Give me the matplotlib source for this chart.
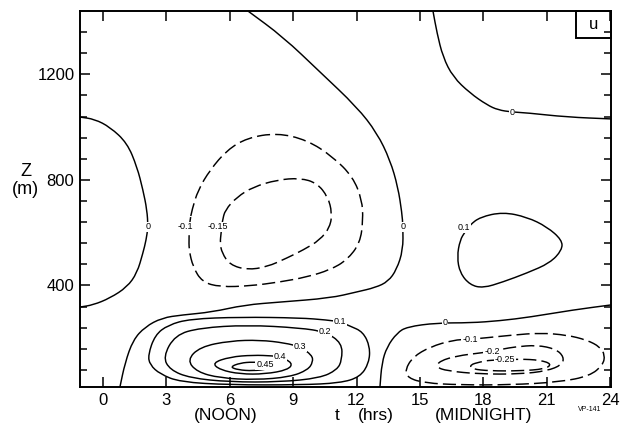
import numpy as np
import matplotlib.pyplot as plt
from matplotlib.patches import Rectangle, PathPatch
from matplotlib.path import Path

plt.rcParams['font.family'] = ['Liberation Sans', 'DejaVu Sans']

# axis ticks
hour_ticks = [0, 3, 6, 9, 12, 15, 18, 21, 24]
height_ticks = [400, 800, 1200]

# contour lines as (t [hrs], z [m])
# u = 0
u0_west = [(-1.09, 1038), (-0.4, 1030), (0.33, 1000), (1.14, 940), (1.61, 849), (1.89, 762),
           (2.08, 686), (2.13, 622), (2.04, 572), (1.89, 523), (1.61, 447), (1.14, 394),
           (0.33, 352), (-0.47, 326), (-1.09, 318)]
u0_diag = [(6.86, 1440), (8.52, 1342), (10.27, 1209), (12.02, 1076), (12.97, 978), (13.59, 875),
           (13.96, 773), (14.15, 675), (14.2, 622), (14.2, 534), (13.9, 460), (13.5, 415),
           (12.9, 392), (12.0, 375), (10.75, 352), (8.4, 337), (6.7, 326), (5.16, 299),
           (3.74, 288), (2.79, 277), (1.99, 243), (1.42, 193), (1.04, 106), (0.8, 15)]
u0_north = [(15.62, 1440), (15.81, 1357), (16.09, 1266), (16.57, 1190), (17.37, 1129),
            (18.18, 1084), (18.7, 1065), (19.36, 1057), (20.07, 1054), (21.96, 1038), (24.05, 1031)]
u0_south = [(13.11, 15), (13.2, 106), (13.44, 167), (13.92, 220), (14.39, 243), (15.81, 258),
            (17.37, 258), (18.79, 266), (20.21, 280), (22.25, 307), (24.05, 326)]

# u = +0.1 aloft at night
p01_aloft = [(17.37, 629), (17.85, 659), (18.93, 678), (20.07, 659), (21.02, 622), (21.73, 572),
             (21.73, 534), (21.16, 485), (20.07, 447), (18.93, 413), (17.99, 390), (17.37, 402),
             (16.9, 447), (16.76, 508), (16.9, 572), (17.14, 603)]

# negative core aloft in the afternoon
n01_aloft = [(4.21, 686), (4.5, 762), (5.07, 838), (5.87, 913), (6.82, 959), (8.24, 978),
             (9.66, 951), (10.89, 887), (11.83, 811), (12.26, 724), (12.31, 648), (12.17, 561),
             (11.55, 496), (10.75, 459), (9.66, 432), (8.38, 413), (6.96, 398), (5.54, 394),
             (4.69, 413), (4.26, 470), (4.07, 534), (4.07, 584), (4.1, 640)]
n015_aloft = [(5.78, 686), (6.34, 735), (7.1, 773), (8.24, 800), (9.33, 807), (10.13, 788),
              (10.65, 735), (10.84, 675), (10.75, 622), (10.27, 572), (9.47, 534), (8.71, 504),
              (7.76, 470), (6.82, 459), (6.01, 478), (5.63, 523), (5.54, 561), (5.59, 599),
              (5.65, 645)]

# daytime low-level jet (positive)
p01_low = [(2.13, 136), (2.46, 212), (3.08, 250), (4.12, 273), (6.49, 280), (9.33, 277),
           (10.6, 269), (11.22, 262), (11.69, 246), (12.31, 224), (12.64, 167), (12.59, 106),
           (12.17, 53), (11.22, 30), (9.33, 23), (6.01, 23), (3.64, 34), (2.7, 64), (2.22, 99)]
p02_low = [(2.84, 129), (3.41, 212), (4.59, 239), (6.82, 250), (9.33, 239), (10.51, 224),
           (11.31, 182), (11.31, 117), (11.08, 80), (10.27, 49), (8.38, 34), (6.01, 34),
           (4.12, 49), (3.17, 80)]
p03_low = [(3.98, 117), (4.59, 167), (6.01, 190), (7.43, 193), (8.62, 182), (9.33, 167),
           (9.89, 136), (9.94, 110), (9.7, 80), (8.85, 53), (7.2, 42), (5.54, 49), (4.45, 72)]
p04_low = [(5.16, 106), (6.01, 129), (7.1, 136), (8.05, 133), (8.38, 129), (8.99, 106),
           (8.76, 80), (7.67, 64), (6.49, 64), (5.54, 80)]
p045_low = [(6.01, 91), (6.49, 106), (7.1, 110), (7.67, 106), (8.05, 95), (7.81, 83),
            (7.1, 76), (6.39, 80)]

# nighttime low-level (negative)
n01_low = [(16.57, 193), (15.48, 167), (14.67, 129), (14.3, 80), (14.44, 49), (15.24, 30),
           (16.9, 23), (19.27, 23), (21.63, 34), (23.05, 57), (23.67, 99), (23.76, 136),
           (23.53, 167), (22.91, 193), (21.96, 212), (20.69, 220), (19.41, 212), (18.08, 201),
           (17.37, 196)]
n02_low = [(17.85, 144), (16.76, 133), (15.95, 114), (15.76, 91), (16.28, 76), (17.85, 64),
           (19.74, 64), (21.02, 76), (21.73, 99), (21.82, 129), (21.44, 159), (20.54, 174),
           (19.5, 167), (18.93, 159), (18.41, 150)]
n025_low = [(17.37, 99), (17.85, 110), (18.32, 117), (19.74, 121), (20.69, 117), (21.25, 102),
            (20.92, 83), (19.74, 76), (18.32, 76), (17.46, 83)]

# in-line contour labels
label_t = [2.13, 14.2, 19.36, 16.19, 17.1, 3.88, 5.44, 11.22, 10.51, 9.33, 8.38, 7.67,
           17.37, 18.41, 19.03]
label_z = [622, 622, 1057, 258, 618, 622, 622, 262, 224, 167, 129, 99, 196, 150, 121]
label_txt = ['0', '0', '0', '0', '0.1', '-0.1', '-0.15', '0.1', '0.2', '0.3', '0.4', '0.45',
             '-0.1', '-0.2', '-0.25']

open_lines = [u0_west, u0_diag, u0_north, u0_south]
closed_pos = [p01_aloft, p01_low, p02_low, p03_low, p04_low, p045_low]
closed_neg = [n01_aloft, n015_aloft, n01_low, n02_low, n025_low]


def curve_path(pts, closed):
    # quadratic bezier through midpoints, read points as control points
    P = np.array(pts, dtype=float)
    if closed:
        M = (P + np.roll(P, -1, axis=0)) / 2
        verts = [M[-1]]
        codes = [Path.MOVETO]
        for i in range(len(P)):
            verts += [P[i], M[i]]
            codes += [Path.CURVE3, Path.CURVE3]
    else:
        M = (P[:-1] + P[1:]) / 2
        verts = [P[0], M[0]]
        codes = [Path.MOVETO, Path.LINETO]
        for i in range(1, len(P) - 1):
            verts += [P[i], M[i]]
            codes += [Path.CURVE3, Path.CURVE3]
        verts.append(P[-1])
        codes.append(Path.LINETO)
    return Path(verts, codes)


fig = plt.figure(figsize=(6.33, 4.23), dpi=100)
ax = fig.add_axes([0.1264, 0.0851, 0.8389, 0.8889])

for line in open_lines:
    ax.add_patch(PathPatch(curve_path(line, False), fill=False, color='black', lw=1.05))
for line in closed_pos:
    ax.add_patch(PathPatch(curve_path(line, True), fill=False, color='black', lw=1.05))
for line in closed_neg:
    ax.add_patch(PathPatch(curve_path(line, True), fill=False, color='black', lw=1.05,
                           linestyle=(0, (9, 3.5))))

for t, z, s in zip(label_t, label_z, label_txt):
    ax.text(t, z, s, fontsize=6.5, ha='center', va='center', zorder=5,
            bbox=dict(facecolor='white', edgecolor='none', pad=0.6))

ax.set_xlim(-1.09, 24.05)
ax.set_ylim(15, 1440)
ax.set_xticks(hour_ticks)
ax.set_yticks(height_ticks)
ax.set_yticks(np.arange(80, 1440, 80), minor=True)
ax.tick_params(which='both', direction='in', top=True, right=True, labelsize=12, width=1.1)
ax.tick_params(which='major', length=7, pad=4)
ax.tick_params(which='minor', length=5)
ax.tick_params(axis='x', which='minor', bottom=False, top=False)
for sp in ax.spines.values():
    sp.set_linewidth(1.4)

# "u" panel tag
ax.add_patch(Rectangle((0.934, 0.928), 0.066, 0.072, transform=ax.transAxes,
                       fill=False, lw=1.4, clip_on=False))
ax.text(0.967, 0.964, 'u', transform=ax.transAxes, fontsize=12, ha='center', va='center')

# axis titles
ax.text(-0.102, 0.574, 'Z', transform=ax.transAxes, fontsize=13, ha='center', va='center')
ax.text(-0.102, 0.524, '(m)', transform=ax.transAxes, fontsize=13, ha='center', va='center')
xt = ax.get_xaxis_transform()
ax.text(5.8, -0.076, '(NOON)', transform=xt, fontsize=12.5, ha='center', va='center')
ax.text(18.0, -0.076, '(MIDNIGHT)', transform=xt, fontsize=12.5, ha='center', va='center')
ax.text(11.1, -0.076, 't', transform=xt, fontsize=12.5, ha='center', va='center')
ax.text(12.9, -0.076, '(hrs)', transform=xt, fontsize=12.5, ha='center', va='center')
ax.text(23.05, -0.061, 'VP-141', transform=xt, fontsize=5, ha='center', va='center')

fig.savefig('out.png', dpi=100)
